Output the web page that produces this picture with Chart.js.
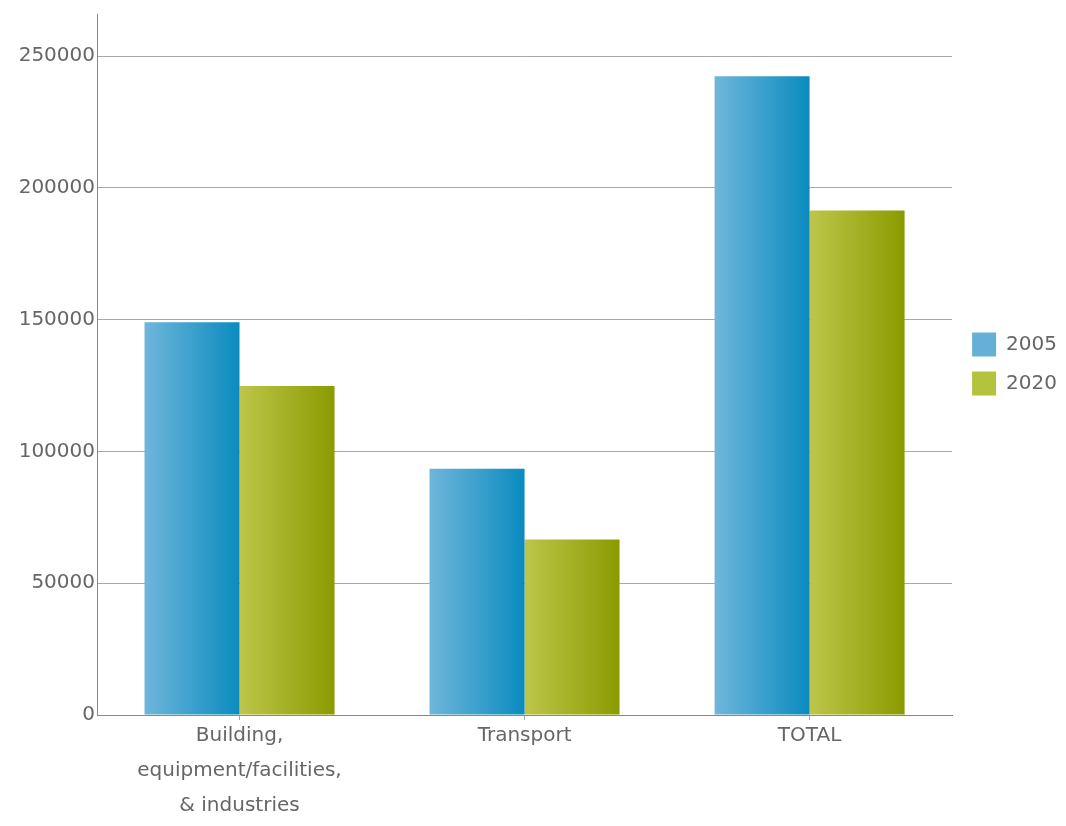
<!DOCTYPE html>
<html>
<head>
<meta charset="utf-8">
<script src="https://cdn.jsdelivr.net/npm/chart.js@4"></script>
<style>
  html, body { margin: 0; padding: 0; background: #fff; }
  #wrap { width: 1066px; height: 826px; }
</style>
</head>
<body>
<div id="wrap"><canvas id="emissionsChart"></canvas></div>
<script>
// Chart data
const categories = [["Building,", "equipment/facilities,", "& industries"], "Transport", "TOTAL"];
const years = ["2005", "2020"];
const values2005 = [149000, 93400, 242400];
const values2020 = [124800, 66600, 191400];
const yTicks = [0, 50000, 100000, 150000, 200000, 250000];

// light -> dark, left to right of each bar
const blueStops = ["#6fb6db", "#0a8bbf"];
const greenStops = ["#bdc64a", "#8a9b00"];
const legendColors = ["#66b0d8", "#b4c33e"];

Chart.defaults.font.family = "'DejaVu Sans', sans-serif";
Chart.defaults.font.size = 20;
Chart.defaults.color = "#666";

// builds a horizontal gradient for one bar (side 0 = left bar, 1 = right bar)
function barGradient(context, stops, side) {
  const chart = context.chart;
  const xScale = chart.scales.x;
  if (!chart.chartArea || !xScale) return stops[0];
  const center = xScale.getPixelForValue(context.dataIndex);
  const barW = xScale.width / categories.length / 3;
  const x0 = side === 0 ? center - barW : center;
  const g = chart.ctx.createLinearGradient(x0, 0, x0 + barW, 0);
  g.addColorStop(0, stops[0]);
  g.addColorStop(1, stops[1]);
  return g;
}

// nudge the legend next to the plot, centred on the plot area
const legendShift = {
  id: "legendShift",
  afterLayout(chart) {
    chart.legend.left += 5;
    chart.legend.right += 5;
    chart.legend.top -= 55;
    chart.legend.bottom -= 55;
  }
};

const ctx = document.getElementById("emissionsChart").getContext("2d");

new Chart(ctx, {
  type: "bar",
  data: {
    labels: categories,
    datasets: [
      {
        label: years[0],
        data: values2005,
        backgroundColor: c => barGradient(c, blueStops, 0),
        borderWidth: 0
      },
      {
        label: years[1],
        data: values2020,
        backgroundColor: c => barGradient(c, greenStops, 1),
        borderWidth: 0
      }
    ]
  },
  options: {
    responsive: true,
    maintainAspectRatio: false,
    animation: false,
    layout: { padding: { top: 12, right: 4, left: 0, bottom: 0 } },
    datasets: {
      bar: { categoryPercentage: 2 / 3, barPercentage: 1 }
    },
    plugins: {
      legend: {
        position: "right",
        align: "center",
        labels: {
          boxWidth: 24,
          boxHeight: 24,
          padding: 15,
          color: "#666",
          font: { size: 20 },
          generateLabels: () => years.map((y, i) => ({
            text: y,
            fillStyle: legendColors[i],
            strokeStyle: legendColors[i],
            fontColor: "#666",
            lineWidth: 0,
            datasetIndex: i,
            hidden: false
          }))
        }
      },
      tooltip: { enabled: false }
    },
    scales: {
      x: {
        grid: {
          offset: false,
          color: "rgba(0,0,0,0)",
          drawTicks: true,
          tickLength: 5,
          tickColor: "#aaa"
        },
        border: { color: "#888", width: 1 },
        ticks: {
          padding: -2,
          color: "#666",
          font: { size: 20, lineHeight: "35px" },
          maxRotation: 0
        },
        afterFit: scale => { scale.height = 111; }
      },
      y: {
        min: 0,
        max: 266000,
        afterFit: scale => { scale.width = 97; },
        afterBuildTicks: scale => {
          scale.ticks = yTicks.map(v => ({ value: v }));
        },
        grid: {
          color: "#aaa",
          drawTicks: false
        },
        border: { color: "#888", width: 1 },
        ticks: {
          padding: 2,
          color: "#666",
          font: { size: 20 },
          callback: v => String(v)
        }
      }
    }
  },
  plugins: [legendShift]
});
</script>
</body>
</html>
